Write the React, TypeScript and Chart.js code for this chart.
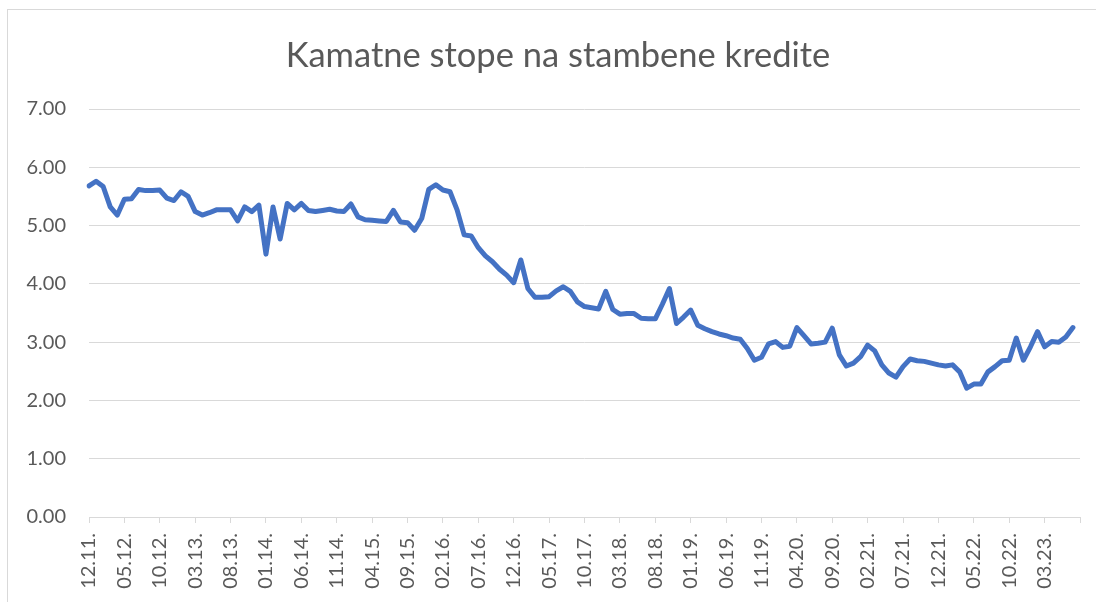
import React, { useEffect, useRef } from 'react';
import { Chart, registerables } from 'chart.js';

Chart.register(...registerables);

// Monthly categories from 12.11. to 08.23.
const firstMonth = 12;
const firstYear = 11;
const categoryCount = 141;
const categories: string[] = [];
{
  let m = firstMonth;
  let y = firstYear;
  for (let k = 0; k < categoryCount; k++) {
    categories.push(String(m).padStart(2, '0') + '.' + String(y).padStart(2, '0') + '.');
    m++;
    if (m > 12) {
      m = 1;
      y++;
    }
  }
}

// Interest rate on housing loans (%)
const rates: number[] = [
  5.68, 5.76, 5.67, 5.32, 5.18, 5.45, 5.46, 5.62, 5.6, 5.6,
  5.61, 5.47, 5.43, 5.58, 5.5, 5.24, 5.18, 5.22, 5.27, 5.27,
  5.27, 5.08, 5.32, 5.24, 5.35, 4.51, 5.32, 4.77, 5.38, 5.27,
  5.38, 5.26, 5.24, 5.26, 5.28, 5.25, 5.24, 5.37, 5.15, 5.1,
  5.09, 5.08, 5.07, 5.26, 5.06, 5.05, 4.92, 5.12, 5.62, 5.7,
  5.61, 5.58, 5.27, 4.84, 4.82, 4.62, 4.48, 4.38, 4.25, 4.15,
  4.02, 4.41, 3.92, 3.77, 3.77, 3.78, 3.88, 3.95, 3.87, 3.69,
  3.61, 3.59, 3.57, 3.87, 3.56, 3.48, 3.49, 3.49, 3.41, 3.4,
  3.4, 3.65, 3.92, 3.32, 3.43, 3.55, 3.29, 3.23, 3.18, 3.14,
  3.11, 3.07, 3.05, 2.89, 2.69, 2.74, 2.97, 3.01, 2.91, 2.93,
  3.25, 3.11, 2.97, 2.98, 3.0, 3.24, 2.78, 2.59, 2.64, 2.75,
  2.95, 2.85, 2.61, 2.47, 2.4, 2.58, 2.71, 2.68, 2.67, 2.64,
  2.61, 2.59, 2.61, 2.49, 2.21, 2.28, 2.28, 2.49, 2.58, 2.68,
  2.69, 3.07, 2.69, 2.92, 3.18, 2.92, 3.01, 3.0, 3.09, 3.25,
];

const yMin = 0;
const yMax = 7;
const yStep = 1;
const labelEvery = 5;
const lastLabelIndex = 135;

const titleText = 'Kamatne stope na stambene kredite';

// Draws the title centred on the whole (partly cropped) chart frame
const titlePlugin = {
  id: 'frameTitle',
  afterDraw(chart: any) {
    const ctx = chart.ctx;
    ctx.save();
    ctx.fillStyle = '#595959';
    ctx.font = 'normal 34.5px Lato';
    ctx.textAlign = 'center';
    ctx.textBaseline = 'middle';
    ctx.fillText(titleText, 558, 56);
    ctx.restore();
  },
};

export default function App() {
  const canvasRef = useRef<HTMLCanvasElement | null>(null);

  useEffect(() => {
    const canvas = canvasRef.current;
    if (!canvas) return;
    const tickFont = { family: 'Lato', size: 20 };
    const chart = new Chart(canvas, {
      type: 'line',
      data: {
        labels: categories,
        datasets: [
          {
            data: rates,
            borderColor: '#4472C4',
            backgroundColor: '#4472C4',
            borderWidth: 5,
            pointRadius: 0,
            pointHoverRadius: 0,
            tension: 0,
            fill: false,
            borderCapStyle: 'round',
            borderJoinStyle: 'round',
          },
        ],
      },
      options: {
        animation: false,
        responsive: false,
        events: [],
        layout: { padding: { left: 0, right: 16, top: 109, bottom: 0 } },
        plugins: {
          legend: { display: false },
          tooltip: { enabled: false },
          title: { display: false },
        },
        scales: {
          x: {
            type: 'category',
            offset: false,
            grid: {
              drawOnChartArea: false,
              drawTicks: true,
              tickLength: 6,
              color: '#d9d9d9',
            },
            border: { display: true, color: '#d9d9d9', width: 1 },
            ticks: {
              autoSkip: false,
              minRotation: 90,
              maxRotation: 90,
              padding: 10,
              color: '#595959',
              font: tickFont,
              callback: (value: any) => {
                const i = Number(value);
                return i % labelEvery === 0 && i <= lastLabelIndex ? categories[i] : '';
              },
            },
            afterBuildTicks: (scale: any) => {
              scale.ticks = scale.ticks.filter((t: any) => t.value % labelEvery === 0);
            },
            afterFit: (scale: any) => {
              scale.height = 85;
              scale.paddingLeft = 0;
              scale.paddingRight = 0;
            },
          },
          y: {
            min: yMin,
            max: yMax,
            grid: { color: '#d9d9d9', drawTicks: false, lineWidth: 1 },
            border: { display: false },
            ticks: {
              stepSize: yStep,
              padding: 23,
              color: '#595959',
              font: tickFont,
              callback: (value: any) => Number(value).toFixed(2),
            },
            afterFit: (scale: any) => {
              scale.width = 89;
            },
          },
        },
      },
      plugins: [titlePlugin],
    });
    return () => chart.destroy();
  }, []);

  return (
    <div style={{ position: 'fixed', left: 0, top: 0, width: 1096, height: 602, background: '#fff', overflow: 'hidden' }}>
      <div
        style={{
          position: 'absolute',
          left: 7,
          top: 9,
          width: 1200,
          height: 700,
          border: '1px solid #d9d9d9',
          boxSizing: 'border-box',
        }}
      />
      <canvas ref={canvasRef} width={1096} height={602} style={{ position: 'absolute', left: 0, top: 0, width: 1096, height: 602 }} />
    </div>
  );
}
